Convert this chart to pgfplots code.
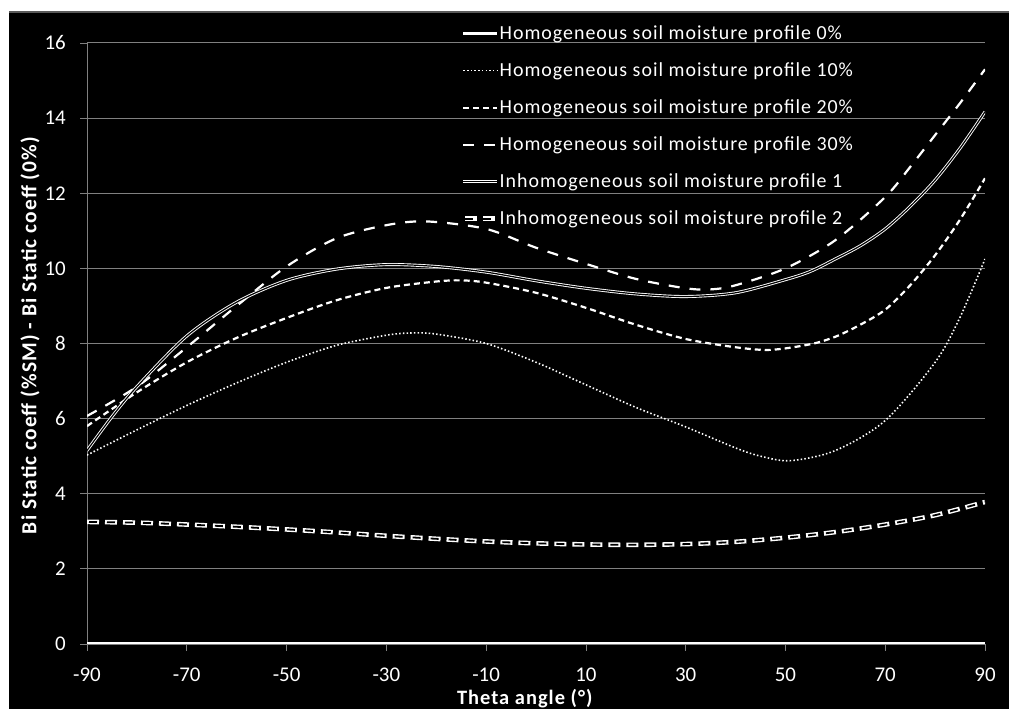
\documentclass[border=0pt]{standalone}
\usepackage{fontspec}
\setmainfont{Carlito}
\newfontfamily\spaced{Carlito}[LetterSpace=5]
\usepackage{pgfplots}
\pgfplotsset{compat=1.18}
\definecolor{gridgray}{RGB}{128,128,128}
\tikzset{
  inhtwowhite/.style={white, line width=4.6bp, dash pattern=on 12bp off 6bp},
  inhtwoblack/.style={black, line width=1.8bp, dash pattern=on 8bp off 10bp, dash phase=16bp},
}
\begin{document}
\begin{tikzpicture}[x=1bp,y=1bp]
\path[use as bounding box] (0,0) rectangle (1009,709);
\clip (0,0) rectangle (1009,709);
\fill[white] (0,0) rectangle (1009,709);
\fill[black] (9,0) rectangle (1009,697);
\draw[gridgray!70!black, line width=1.2bp] (9,697) -- (1009,697);
\begin{axis}[
  at={(87bp,65bp)}, anchor=south west,
  scale only axis, width=898bp, height=601bp,
  xmin=-90, xmax=90, ymin=0, ymax=16,
  xtick={-90,-70,...,90}, ytick={0,2,...,16},
  axis x line=bottom, axis y line=left,
  axis line style={gridgray, line width=0.8bp, -},
  ymajorgrids, major grid style={gridgray, line width=1bp},
  tick style={gridgray, line width=0.8bp},
  tick align=outside, major tick length=7bp,
  /pgf/number format/assume math mode=true,
  ticklabel style={white, font=\fontsize{21}{24}\selectfont},
  xticklabel style={anchor=base, inner sep=0pt}, xticklabel shift=31bp,
  yticklabel style={anchor=east, inner sep=0pt}, yticklabel shift=14bp,
  xlabel={\textbf{Theta angle (°)}},
  ylabel={\textbf{Bi Static coeff (\%SM) - Bi Static coeff (0\%)}},
  xlabel style={white, font=\spaced\fontsize{20.5}{24}\selectfont, inner sep=0pt, at={(axis description cs:0.488,-0.1)}, anchor=base},
  ylabel style={white, font=\spaced\fontsize{21.5}{24}\selectfont, at={(axis description cs:-0.0635,0.514)}, anchor=center},
  legend style={at={(axis description cs:0.413,1.05)}, anchor=north west,
    draw=none, fill=none, text=white, font=\spaced\fontsize{20}{24}\selectfont,
    nodes={inner xsep=0pt, inner ysep=0pt, minimum height=37bp, anchor=west},
    row sep=0pt},
  legend cell align=left,
  legend image code/.code={\draw[#1] (0bp,0bp) -- (34bp,0bp);},
  clip=true,
]
% 0%
\addplot[white, line width=3bp] coordinates {(-90,0) (90,0)};
\addlegendentry{Homogeneous soil moisture profile 0\%}
% 10%
\addplot[white, line width=1.6bp, dash pattern=on 1.5bp off 2.2bp, smooth] coordinates {
(-90,5.03) (-80,5.7) (-70,6.35) (-60,6.95) (-50,7.5) (-40,7.95) (-30,8.22) (-25,8.28) (-20,8.25)
(-10,8.0) (0,7.5) (10,6.9) (20,6.3) (30,5.78) (40,5.22) (45,5.0) (51,4.88) (60,5.15) (70,5.95)
(80,7.5) (85,8.7) (90,10.25)};
\addlegendentry{Homogeneous soil moisture profile 10\%}
% 20%
\addplot[white, line width=2.2bp, dash pattern=on 6bp off 4bp, smooth] coordinates {
(-90,5.8) (-80,6.7) (-70,7.5) (-60,8.15) (-50,8.68) (-40,9.15) (-30,9.48) (-20,9.65) (-15,9.68)
(-10,9.62) (0,9.35) (10,8.95) (20,8.5) (30,8.12) (40,7.9) (47,7.83) (55,7.98) (60,8.18) (65,8.5) (70,8.9)
(75,9.55) (80,10.35) (85,11.3) (90,12.4)};
\addlegendentry{Homogeneous soil moisture profile 20\%}
% 30%
\addplot[white, line width=2.2bp, dash pattern=on 11bp off 10bp, smooth] coordinates {
(-90,6.07) (-80,6.85) (-70,7.9) (-60,9.0) (-50,10.05) (-40,10.8) (-30,11.15) (-22,11.25)
(-10,11.05) (0,10.55) (10,10.12) (20,9.72) (30,9.47) (35,9.44) (40,9.55) (50,10.0) (60,10.75)
(70,11.9) (75,12.7) (80,13.55) (85,14.4) (90,15.3)};
\addlegendentry{Homogeneous soil moisture profile 30\%}
% Inhom 1
\addplot[white, line width=0.9bp, double=black, double distance=1.2bp, smooth] coordinates {
(-90,5.15) (-85,6.05) (-80,6.85) (-70,8.2) (-60,9.1) (-50,9.68) (-40,9.98) (-30,10.1) (-20,10.05)
(-10,9.9) (0,9.67) (10,9.47) (20,9.32) (30,9.25) (40,9.35) (50,9.7) (55,9.92) (60,10.25) (65,10.6)
(70,11.05) (75,11.65) (80,12.35) (85,13.2) (90,14.17)};
\addlegendentry{Inhomogeneous soil moisture profile 1}
% Inhom 2
\addplot[inhtwowhite, smooth, forget plot] coordinates {
(-90,3.25) (-80,3.23) (-70,3.18) (-60,3.12) (-50,3.05) (-40,2.97) (-30,2.88) (-20,2.8) (-10,2.73)
(0,2.68) (10,2.65) (20,2.64) (30,2.66) (40,2.72) (50,2.83) (60,2.98) (70,3.18) (80,3.43) (90,3.78)};
\addplot[inhtwoblack, smooth,
  legend image code/.code={\draw[inhtwowhite] (0bp,0bp) -- (34bp,0bp); \draw[inhtwoblack] (0bp,0bp) -- (34bp,0bp);}] coordinates {
(-90,3.25) (-80,3.23) (-70,3.18) (-60,3.12) (-50,3.05) (-40,2.97) (-30,2.88) (-20,2.8) (-10,2.73)
(0,2.68) (10,2.65) (20,2.64) (30,2.66) (40,2.72) (50,2.83) (60,2.98) (70,3.18) (80,3.43) (90,3.78)};
\addlegendentry{Inhomogeneous soil moisture profile 2}
\end{axis}
\end{tikzpicture}
\end{document}
